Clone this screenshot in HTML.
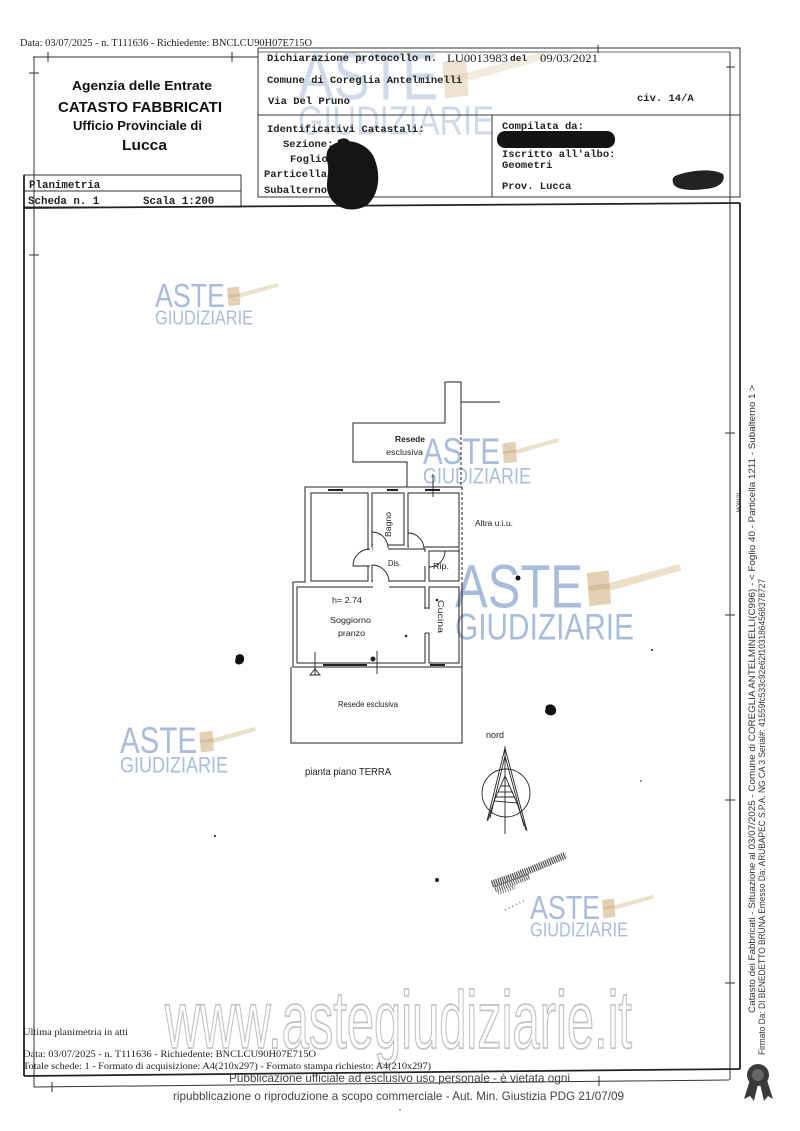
<!DOCTYPE html>
<html><head><meta charset="utf-8">
<style>html,body{margin:0;padding:0;background:#fff;}svg{display:block}</style>
</head>
<body>
<svg width="800" height="1131" viewBox="0 0 800 1131" xmlns="http://www.w3.org/2000/svg">
<rect x="0" y="0" width="800" height="1131" fill="#fff"/>

<!-- ===== WATERMARK LOGOS ===== -->
<g fill="#a9bcdb" font-family="Liberation Sans, sans-serif">
  <g opacity="0.55">
  <text x="298" y="99.6" font-size="66.5" textLength="140" lengthAdjust="spacingAndGlyphs">ASTE</text>
  <text x="298" y="134.6" font-size="41" textLength="196" lengthAdjust="spacingAndGlyphs">GIUDIZIARIE</text>
  </g>
  <text x="155" y="306.8" font-size="33.3" textLength="70" lengthAdjust="spacingAndGlyphs">ASTE</text>
  <text x="155" y="324.3" font-size="20.5" textLength="98" lengthAdjust="spacingAndGlyphs">GIUDIZIARIE</text>
  <text x="423" y="464.2" font-size="36.6" textLength="77" lengthAdjust="spacingAndGlyphs">ASTE</text>
  <text x="423" y="483.4" font-size="22.6" textLength="108" lengthAdjust="spacingAndGlyphs">GIUDIZIARIE</text>
  <text x="455" y="607.5" font-size="60.8" textLength="128" lengthAdjust="spacingAndGlyphs">ASTE</text>
  <text x="455" y="639.5" font-size="37.5" textLength="179" lengthAdjust="spacingAndGlyphs">GIUDIZIARIE</text>
  <text x="120" y="753.2" font-size="36.6" textLength="77" lengthAdjust="spacingAndGlyphs">ASTE</text>
  <text x="120" y="772.4" font-size="22.6" textLength="108" lengthAdjust="spacingAndGlyphs">GIUDIZIARIE</text>
  <text x="530" y="918.8" font-size="33.3" textLength="70" lengthAdjust="spacingAndGlyphs">ASTE</text>
  <text x="530" y="936.3" font-size="20.5" textLength="98" lengthAdjust="spacingAndGlyphs">GIUDIZIARIE</text>
</g>
<!-- gavels -->
<g>
  <g transform="translate(298,52) scale(140)" opacity="0.6">
    <polygon points="1.20,0.15 1.75,0.0 1.77,0.05 1.21,0.21" fill="#eedfca"/>
    <polygon points="1.03,0.07 1.20,0.05 1.22,0.31 1.05,0.33" fill="#e4d0b5"/>
    <polygon points="1.04,0.17 1.21,0.15 1.215,0.19 1.045,0.21" fill="#d6bf9f"/>
  </g>
  <g transform="translate(155,283) scale(70)">
    <polygon points="1.20,0.15 1.75,0.0 1.77,0.05 1.21,0.21" fill="#eedfca"/>
    <polygon points="1.03,0.07 1.20,0.05 1.22,0.31 1.05,0.33" fill="#e4d0b5"/>
    <polygon points="1.04,0.17 1.21,0.15 1.215,0.19 1.045,0.21" fill="#d6bf9f"/>
  </g>
  <g transform="translate(423,438) scale(77)">
    <polygon points="1.20,0.15 1.75,0.0 1.77,0.05 1.21,0.21" fill="#eedfca"/>
    <polygon points="1.03,0.07 1.20,0.05 1.22,0.31 1.05,0.33" fill="#e4d0b5"/>
    <polygon points="1.04,0.17 1.21,0.15 1.215,0.19 1.045,0.21" fill="#d6bf9f"/>
  </g>
  <g transform="translate(455,564) scale(128)">
    <polygon points="1.20,0.15 1.75,0.0 1.77,0.05 1.21,0.21" fill="#eedfca"/>
    <polygon points="1.03,0.07 1.20,0.05 1.22,0.31 1.05,0.33" fill="#e4d0b5"/>
    <polygon points="1.04,0.17 1.21,0.15 1.215,0.19 1.045,0.21" fill="#d6bf9f"/>
  </g>
  <g transform="translate(120,727) scale(77)">
    <polygon points="1.20,0.15 1.75,0.0 1.77,0.05 1.21,0.21" fill="#eedfca"/>
    <polygon points="1.03,0.07 1.20,0.05 1.22,0.31 1.05,0.33" fill="#e4d0b5"/>
    <polygon points="1.04,0.17 1.21,0.15 1.215,0.19 1.045,0.21" fill="#d6bf9f"/>
  </g>
  <g transform="translate(530,895) scale(70)">
    <polygon points="1.20,0.15 1.75,0.0 1.77,0.05 1.21,0.21" fill="#eedfca"/>
    <polygon points="1.03,0.07 1.20,0.05 1.22,0.31 1.05,0.33" fill="#e4d0b5"/>
    <polygon points="1.04,0.17 1.21,0.15 1.215,0.19 1.045,0.21" fill="#d6bf9f"/>
  </g>
</g>

<!-- ===== FRAMES ===== -->
<g stroke="#333" fill="none" stroke-width="1">
  <line x1="33" y1="57" x2="258" y2="57"/>
  <line x1="34" y1="57" x2="34" y2="1087"/>
  <line x1="34" y1="1087" x2="729" y2="1080"/>
  <line x1="730" y1="52" x2="730" y2="1080"/>
  <rect x="258" y="48" width="482" height="149"/>
  <line x1="258" y1="52" x2="730" y2="52" stroke-width="0.8"/>
  <line x1="258" y1="115" x2="740" y2="115"/>
  <line x1="492" y1="115" x2="492" y2="197"/>
  <rect x="24" y="175" width="217" height="32"/>
  <line x1="24" y1="191" x2="241" y2="191"/>
  <line x1="48" y1="52" x2="48" y2="62"/>
  <line x1="232" y1="52" x2="232" y2="62"/>
  <line x1="29" y1="73" x2="39" y2="73"/>
  <line x1="29" y1="255" x2="39" y2="255"/>
  <line x1="598" y1="45" x2="598" y2="53"/>
  <line x1="726" y1="67" x2="735" y2="67"/>
  <line x1="725" y1="433" x2="735" y2="433"/>
  <line x1="725" y1="615" x2="735" y2="615"/>
  <line x1="725" y1="800" x2="735" y2="800"/>
  <line x1="725" y1="983" x2="735" y2="983"/>
  <line x1="52" y1="1082" x2="52" y2="1092"/>
  <line x1="599" y1="1076" x2="599" y2="1086"/>
</g>
<g stroke="#222" fill="none" stroke-width="1.8">
  <line x1="24" y1="175" x2="24" y2="1076"/>
  <line x1="24" y1="208" x2="740" y2="203"/>
  <line x1="740" y1="203" x2="740" y2="1069"/>
  <line x1="24" y1="1076" x2="740" y2="1069"/>
</g>

<!-- ===== HEADER TEXT ===== -->
<text x="20" y="46" font-family="Liberation Serif, serif" font-size="10" fill="#222" textLength="292" lengthAdjust="spacingAndGlyphs">Data: 03/07/2025 - n. T111636 - Richiedente: BNCLCU90H07E715O</text>

<g font-family="Liberation Sans, sans-serif" font-weight="bold" fill="#111">
  <text x="72" y="90" font-size="12.5" textLength="140" lengthAdjust="spacingAndGlyphs">Agenzia delle Entrate</text>
  <text x="58" y="112" font-size="14.5" textLength="164" lengthAdjust="spacingAndGlyphs">CATASTO FABBRICATI</text>
  <text x="73" y="130" font-size="12.5" textLength="129" lengthAdjust="spacingAndGlyphs">Ufficio Provinciale di</text>
  <text x="122" y="150" font-size="15" textLength="45" lengthAdjust="spacingAndGlyphs">Lucca</text>
</g>

<g font-family="Liberation Mono, monospace" font-weight="bold" font-size="10.5" fill="#222">
  <text x="267" y="61">Dichiarazione protocollo n.</text>
  <text x="510" y="61" font-size="9.5">del</text>
  <text x="267" y="83">Comune di Coreglia Antelminelli</text>
  <text x="268" y="104">Via Del Pruno</text>
  <text x="637" y="101">civ. 14/A</text>
  <text x="267" y="132">Identificativi Catastali:</text>
  <text x="283" y="147">Sezione:</text>
  <text x="290" y="162">Foglio</text>
  <text x="264" y="177">Particella</text>
  <text x="264" y="193">Subalterno</text>
  <text x="502" y="129">Compilata da:</text>
  <text x="502" y="157">Iscritto all'albo:</text>
  <text x="502" y="168">Geometri</text>
  <text x="502" y="189">Prov. Lucca</text>
  <text x="29" y="188" font-size="10.8">Planimetria</text>
  <text x="28" y="204" font-size="10.8">Scheda n. 1</text>
  <text x="143" y="204" font-size="10.8">Scala 1:200</text>
</g>
<g font-family="Liberation Serif, serif" font-size="12" fill="#222">
  <text x="447" y="62" textLength="61" lengthAdjust="spacingAndGlyphs">LU0013983</text>
  <text x="540" y="62" textLength="58" lengthAdjust="spacingAndGlyphs">09/03/2021</text>
</g>

<!-- redactions -->
<path d="M336,143 C352,137 371,146 375,160 C381,176 379,196 366,206 C352,213 336,209 330,197 C323,186 331,173 327,161 C325,151 329,146 336,143 Z" fill="#151515"/>
<path d="M338,140 C346,136 352,140 350,148 C344,152 336,150 338,140 Z" fill="#151515"/>
<rect x="497" y="131" width="118" height="17" rx="8" fill="#141414"/>
<path d="M675,176 C690,170 712,168 723,174 C726,181 720,188 705,189 C692,191 678,190 674,185 C672,181 672,178 675,176 Z" fill="#222"/>

<!-- ===== FLOOR PLAN ===== -->
<g stroke="#222" fill="none" stroke-width="1">
  <path d="M445,423 V382 H461 V432"/>
  <path d="M461,432 V487" stroke-dasharray="3,2"/>
  <line x1="461" y1="402" x2="500" y2="402"/>
  <path d="M445,423 H353 V462 H407 V487"/>
  <path d="M462,487 H305 V582 H293 V667 H462 V582"/>
  <line x1="462" y1="487" x2="462" y2="582" stroke-dasharray="3,2"/>
  <line x1="459" y1="493" x2="459" y2="581" stroke-dasharray="3,2"/>
  <rect x="311" y="493" width="57" height="88"/>
  <rect x="372" y="493" width="32" height="52"/>
  <rect x="408" y="493" width="51" height="54"/>
  <path d="M372,549 H425 V581 H372"/>
  <rect x="429" y="551" width="30" height="30"/>
  <rect x="297" y="587" width="128" height="76"/>
  <rect x="429" y="587" width="30" height="76"/>
  <path d="M291,667 V743 H462 V667"/>
</g>
<g fill="#fff" stroke="none">
  <rect x="367" y="550" width="6" height="16"/>
  <rect x="373" y="544" width="15" height="6"/>
  <rect x="409" y="546" width="15" height="6"/>
  <rect x="424" y="552" width="6" height="14"/>
  <rect x="373" y="580" width="16" height="8"/>
  <rect x="424" y="609" width="6" height="24"/>
</g>
<g stroke="#222" fill="none" stroke-width="0.9">
  <path d="M370,549 A17,17 0 0,0 353,566 L370,566"/>
  <path d="M388,548 A16,16 0 0,0 372,532 L372,548"/>
  <path d="M408,533 A16,16 0 0,1 424,549 L408,549"/>
  <path d="M445,551 A16,16 0 0,1 429,567 L429,551"/>
  <path d="M389,582 A17,17 0 0,0 372,565 L372,582"/>
  <line x1="425" y1="608" x2="429" y2="608"/>
  <line x1="425" y1="633" x2="429" y2="633"/>
  <line x1="328" y1="490" x2="343" y2="490" stroke-width="2"/>
  <line x1="387" y1="490" x2="398" y2="490" stroke-width="2"/>
  <line x1="425" y1="490" x2="440" y2="490" stroke-width="2"/>
  <line x1="323" y1="665" x2="367" y2="665" stroke-width="2"/>
  <line x1="430" y1="665" x2="445" y2="665" stroke-width="2"/>
  <line x1="433" y1="474" x2="433" y2="497"/>
  <line x1="315" y1="652" x2="315" y2="675"/>
  <path d="M310,675 L315,669 L320,675 Z"/>
  <line x1="377" y1="651" x2="377" y2="674"/>
</g>
<g fill="#222">
  <circle cx="373" cy="659" r="2.5"/>
  <circle cx="406" cy="636" r="1.3"/>
  <circle cx="437" cy="600" r="1.3"/>
</g>
<g font-family="Liberation Sans, sans-serif" font-size="8" fill="#222">
  <text x="395" y="442" font-weight="bold" textLength="30" lengthAdjust="spacingAndGlyphs">Resede</text>
  <text x="386" y="455" textLength="37" lengthAdjust="spacingAndGlyphs">esclusiva</text>
  <text x="475" y="526" textLength="38" lengthAdjust="spacingAndGlyphs">Altra u.i.u.</text>
  <text x="388" y="566" textLength="13" lengthAdjust="spacingAndGlyphs">Dis.</text>
  <text x="433" y="569" textLength="16" lengthAdjust="spacingAndGlyphs">Rip.</text>
  <text x="332" y="603" textLength="30" lengthAdjust="spacingAndGlyphs">h= 2.74</text>
  <text x="330" y="623" textLength="41" lengthAdjust="spacingAndGlyphs">Soggiorno</text>
  <text x="338" y="636" textLength="27" lengthAdjust="spacingAndGlyphs">pranzo</text>
  <text x="338" y="707" textLength="60" lengthAdjust="spacingAndGlyphs">Resede esclusiva</text>
  <text transform="translate(391,537) rotate(-90)" textLength="25" lengthAdjust="spacingAndGlyphs">Bagno</text>
  <text transform="translate(438,600) rotate(90)" textLength="33" lengthAdjust="spacingAndGlyphs">Cucina</text>
  <text x="486" y="738" font-size="9" textLength="18" lengthAdjust="spacingAndGlyphs">nord</text>
  <text x="305" y="775" font-size="10.5" textLength="86" lengthAdjust="spacingAndGlyphs">pianta piano TERRA</text>
</g>

<!-- north arrow -->
<g stroke="#222" fill="none" stroke-width="0.9">
  <circle cx="506" cy="793" r="24"/>
  <line x1="505" y1="746" x2="505" y2="834"/>
  <line x1="505" y1="748" x2="487" y2="821"/>
  <line x1="505" y1="748" x2="527" y2="831"/>
  <line x1="505" y1="756" x2="490" y2="818"/>
  <line x1="505" y1="756" x2="524" y2="826"/>
  <path d="M505,776 L494,801 L517,803 Z"/>
  <line x1="498" y1="792" x2="513" y2="792"/>
  <line x1="496" y1="797" x2="515" y2="797"/>
  <line x1="501" y1="786" x2="510" y2="786"/>
  <line x1="494" y1="801" x2="488" y2="820"/>
  <line x1="517" y1="803" x2="526" y2="830"/>
</g>

<!-- specks / smears -->
<g fill="#111">
  <path d="M236,656 C240,652 245,655 244,660 C243,665 237,666 235,662 Z"/>
  <path d="M546,706 C551,702 557,706 556,712 C554,717 547,716 545,712 Z"/>
  <circle cx="437" cy="880" r="2"/>
  <circle cx="518" cy="578" r="2.5"/>
  <circle cx="652" cy="650" r="1"/>
  <circle cx="215" cy="836" r="1"/>
  <circle cx="641" cy="781" r="0.8"/>
</g>
<g stroke="#222" fill="none">
  <path d="M492,884 L515,876 L540,866 L566,855" stroke-width="7" stroke-dasharray="1.2,1" opacity="0.8"/>
  <path d="M495,889 L512,883 L530,876" stroke-width="6" stroke-dasharray="1,1.2" opacity="0.75"/>
  <path d="M498,893 L515,887" stroke-width="4" stroke-dasharray="1,1.5" opacity="0.6"/>
  <path d="M505,910 L525,900" stroke-width="2" stroke-dasharray="1,3" opacity="0.5"/>
</g>

<!-- big url watermark -->
<text x="165" y="1048" font-family="Liberation Sans, sans-serif" font-size="82" fill="#fff" stroke="#c4c4c4" stroke-width="1.8" textLength="467" lengthAdjust="spacingAndGlyphs">www.astegiudiziarie.it</text>

<!-- bottom text -->
<g font-family="Liberation Serif, serif" font-size="9.8" fill="#222">
  <text x="23" y="1035" textLength="105" lengthAdjust="spacingAndGlyphs">Ultima planimetria in atti</text>
  <text x="23" y="1057" textLength="293" lengthAdjust="spacingAndGlyphs">Data: 03/07/2025 - n. T111636 - Richiedente: BNCLCU90H07E715O</text>
  <text x="23" y="1069" textLength="408" lengthAdjust="spacingAndGlyphs">Totale schede: 1 - Formato di acquisizione: A4(210x297) - Formato stampa richiesto: A4(210x297)</text>
</g>
<g font-family="Liberation Sans, sans-serif" font-size="12" fill="#444">
  <text x="229" y="1082" textLength="341" lengthAdjust="spacingAndGlyphs">Pubblicazione ufficiale ad esclusivo uso personale - è vietata ogni</text>
  <text x="173" y="1100" textLength="451" lengthAdjust="spacingAndGlyphs">ripubblicazione o riproduzione a scopo commerciale - Aut. Min. Giustizia PDG 21/07/09</text>
</g>
<line x1="399" y1="1110" x2="401" y2="1110" stroke="#555" stroke-width="1"/>

<!-- right vertical texts -->
<g font-family="Liberation Sans, sans-serif" font-size="9.5" fill="#333">
  <text transform="translate(755,1013) rotate(-90)" textLength="628" lengthAdjust="spacingAndGlyphs">Catasto dei Fabbricati - Situazione al 03/07/2025 - Comune di COREGLIA ANTELMINELLI(C996) - &lt; Foglio 40 - Particella 1211 - Subalterno 1 &gt;</text>
  <text transform="translate(765,1055) rotate(-90)" textLength="476" lengthAdjust="spacingAndGlyphs">Firmato Da: DI BENEDETTO BRUNA Emesso Da: ARUBAPEC S.P.A. NG CA 3 Serial#: 41559fc533c92e62f1031864568378727</text>
  <text transform="translate(741,512) rotate(-90)" font-size="6" textLength="20" lengthAdjust="spacingAndGlyphs">MOW 01</text>
</g>

<!-- seal -->
<g fill="#3a3a3a">
  <path d="M750,1080 L744,1099 L750,1096 L754,1101 L758,1084 Z"/>
  <path d="M760,1084 L764,1101 L768,1096 L773,1099 L767,1080 Z"/>
  <circle cx="758" cy="1075" r="11"/>
  <circle cx="758" cy="1075" r="6" fill="#666"/>
</g>
</svg>
</body></html>
